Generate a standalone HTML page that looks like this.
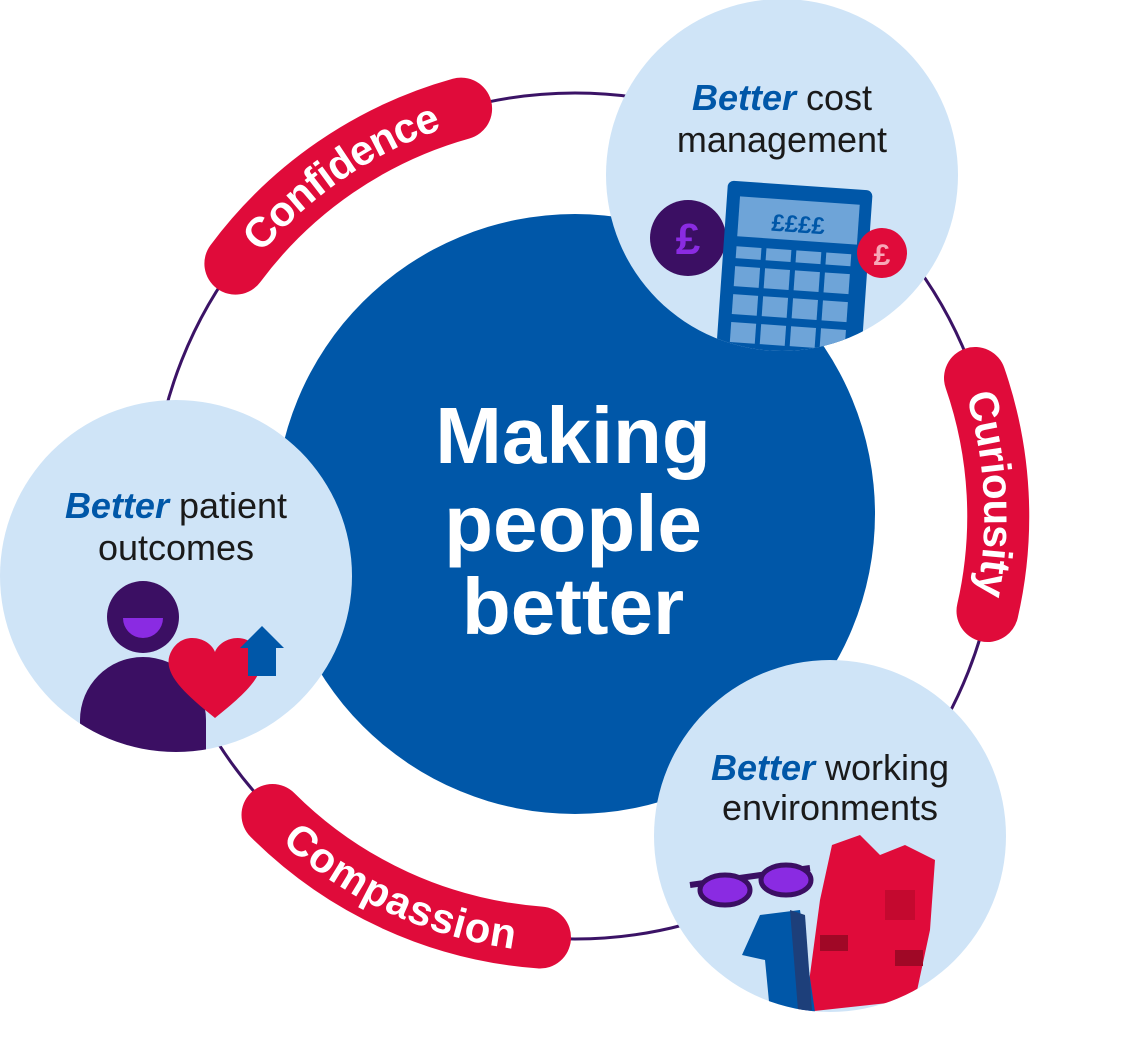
<!DOCTYPE html>
<html><head><meta charset="utf-8"><style>
html,body{margin:0;padding:0;background:#fff;}
svg{display:block;}
.t{font-family:"Liberation Sans",sans-serif;}
</style></head><body>
<svg width="1123" height="1048" viewBox="0 0 1123 1048" xmlns="http://www.w3.org/2000/svg">
<defs>
<path id="pConf" d="M 235.4 263.6 A 423 423 0 0 1 461.1 108.6"/>
<path id="pCur" d="M 975 378 A 423 423 0 0 1 987.5 611"/>
<path id="pComp" d="M 272.5 815 A 423 423 0 0 0 540 937.5"/>
</defs>
<circle cx="575" cy="516" r="423" fill="none" stroke="#3b1366" stroke-width="3"/>
<circle cx="575" cy="514" r="300" fill="#0057a8"/>
<g class="t" fill="#fff" font-weight="bold" font-size="80" text-anchor="middle">
<text x="573" y="463">Making</text>
<text x="573" y="551">people</text>
<text x="573" y="634">better</text>
</g>
<g fill="none" stroke="#e00b3a" stroke-width="62" stroke-linecap="round">
<use href="#pConf"/><use href="#pCur"/><use href="#pComp"/>
</g>
<g class="t" fill="#fff" font-weight="bold" font-size="42" text-anchor="middle">
<text dy="14"><textPath href="#pConf" startOffset="50%">Confidence</textPath></text>
<text dy="14"><textPath href="#pCur" startOffset="50%">Curiousity</textPath></text>
<text dy="14"><textPath href="#pComp" startOffset="50%">Compassion</textPath></text>
</g>
<circle cx="782" cy="175" r="176" fill="#cfe4f7"/>
<g class="t" font-size="36" text-anchor="middle" fill="#1a1a1a">
<text x="782" y="110"><tspan fill="#0057a8" font-weight="bold" font-style="italic">Better</tspan> cost</text>
<text x="782" y="152">management</text>
</g>
<clipPath id="c1"><circle cx="782" cy="175" r="176"/></clipPath>
<g clip-path="url(#c1)">
<circle cx="688" cy="238" r="38" fill="#3b0f63"/>
<text x="688" y="254" class="t" font-size="44" font-weight="bold" fill="#8a2be2" text-anchor="middle">£</text>
<g transform="rotate(4 790 270)">
<rect x="722" y="185" width="145" height="180" rx="6" fill="#0057a8"/>
<rect x="735" y="200" width="120" height="40" fill="#6ea4d8"/>
<text x="795" y="232" class="t" font-size="24" font-weight="bold" fill="#0057a8" text-anchor="middle">££££</text>
<g fill="#6ea4d8"><rect x="735" y="250" width="25" height="12"/><rect x="765" y="250" width="25" height="12"/><rect x="795" y="250" width="25" height="12"/><rect x="825" y="250" width="25" height="12"/>
<rect x="735" y="270" width="25" height="20"/><rect x="765" y="270" width="25" height="20"/><rect x="795" y="270" width="25" height="20"/><rect x="825" y="270" width="25" height="20"/>
<rect x="735" y="298" width="25" height="20"/><rect x="765" y="298" width="25" height="20"/><rect x="795" y="298" width="25" height="20"/><rect x="825" y="298" width="25" height="20"/>
<rect x="735" y="326" width="25" height="20"/><rect x="765" y="326" width="25" height="20"/><rect x="795" y="326" width="25" height="20"/><rect x="825" y="326" width="25" height="20"/></g>
</g>
<circle cx="882" cy="253" r="25" fill="#e00b3a"/>
<text x="882" y="265" class="t" font-size="30" font-weight="bold" fill="#f7a8b8" text-anchor="middle">£</text>
</g>
<circle cx="176" cy="576" r="176" fill="#cfe4f7"/>
<g class="t" font-size="36" text-anchor="middle" fill="#1a1a1a">
<text x="176" y="518"><tspan fill="#0057a8" font-weight="bold" font-style="italic">Better</tspan> patient</text>
<text x="176" y="560">outcomes</text>
</g>
<clipPath id="c2"><circle cx="176" cy="576" r="176"/></clipPath>
<g clip-path="url(#c2)">
<circle cx="143" cy="617" r="36" fill="#3b0f63"/>
<path d="M123 618 A20 20 0 0 0 163 618 Z" fill="#8a2be2"/>
<path d="M80 760 L80 720 A63 63 0 0 1 206 720 L206 760 Z" fill="#3b0f63"/>
<path d="M215 718 C180 690 160 670 172 650 C184 630 210 638 215 652 C220 638 246 630 258 650 C270 670 250 690 215 718 Z" fill="#e00b3a"/>
<path d="M248 676 L248 648 L240 648 L262 626 L284 648 L276 648 L276 676 Z" fill="#0057a8"/>
</g>
<circle cx="830" cy="836" r="176" fill="#cfe4f7"/>
<g class="t" font-size="36" text-anchor="middle" fill="#1a1a1a">
<text x="830" y="780"><tspan fill="#0057a8" font-weight="bold" font-style="italic">Better</tspan> working</text>
<text x="830" y="820">environments</text>
</g>
<clipPath id="c3"><circle cx="830" cy="836" r="176"/></clipPath>
<g clip-path="url(#c3)">
<path d="M832 845 L860 835 L880 855 L905 845 L935 860 L930 930 L915 1000 L805 1012 L820 900 Z" fill="#e00b3a"/>
<rect x="885" y="890" width="30" height="30" fill="#c4092f"/>
<rect x="820" y="935" width="28" height="16" fill="#a00826"/>
<rect x="895" y="950" width="28" height="16" fill="#a00826"/>
<path d="M760 915 L800 910 L815 1012 L770 1012 L765 960 L742 955 Z" fill="#0057a8"/>
<path d="M790 910 L805 915 L812 1010 L798 1010 Z" fill="#1d3f7a"/>
<path d="M690 885 L810 868" stroke="#3b0f63" stroke-width="6"/>
<ellipse cx="725" cy="890" rx="25" ry="15" fill="#8a2be2" stroke="#3b0f63" stroke-width="5"/>
<ellipse cx="786" cy="880" rx="25" ry="15" fill="#8a2be2" stroke="#3b0f63" stroke-width="5"/>
</g>
</svg>
</body></html>
